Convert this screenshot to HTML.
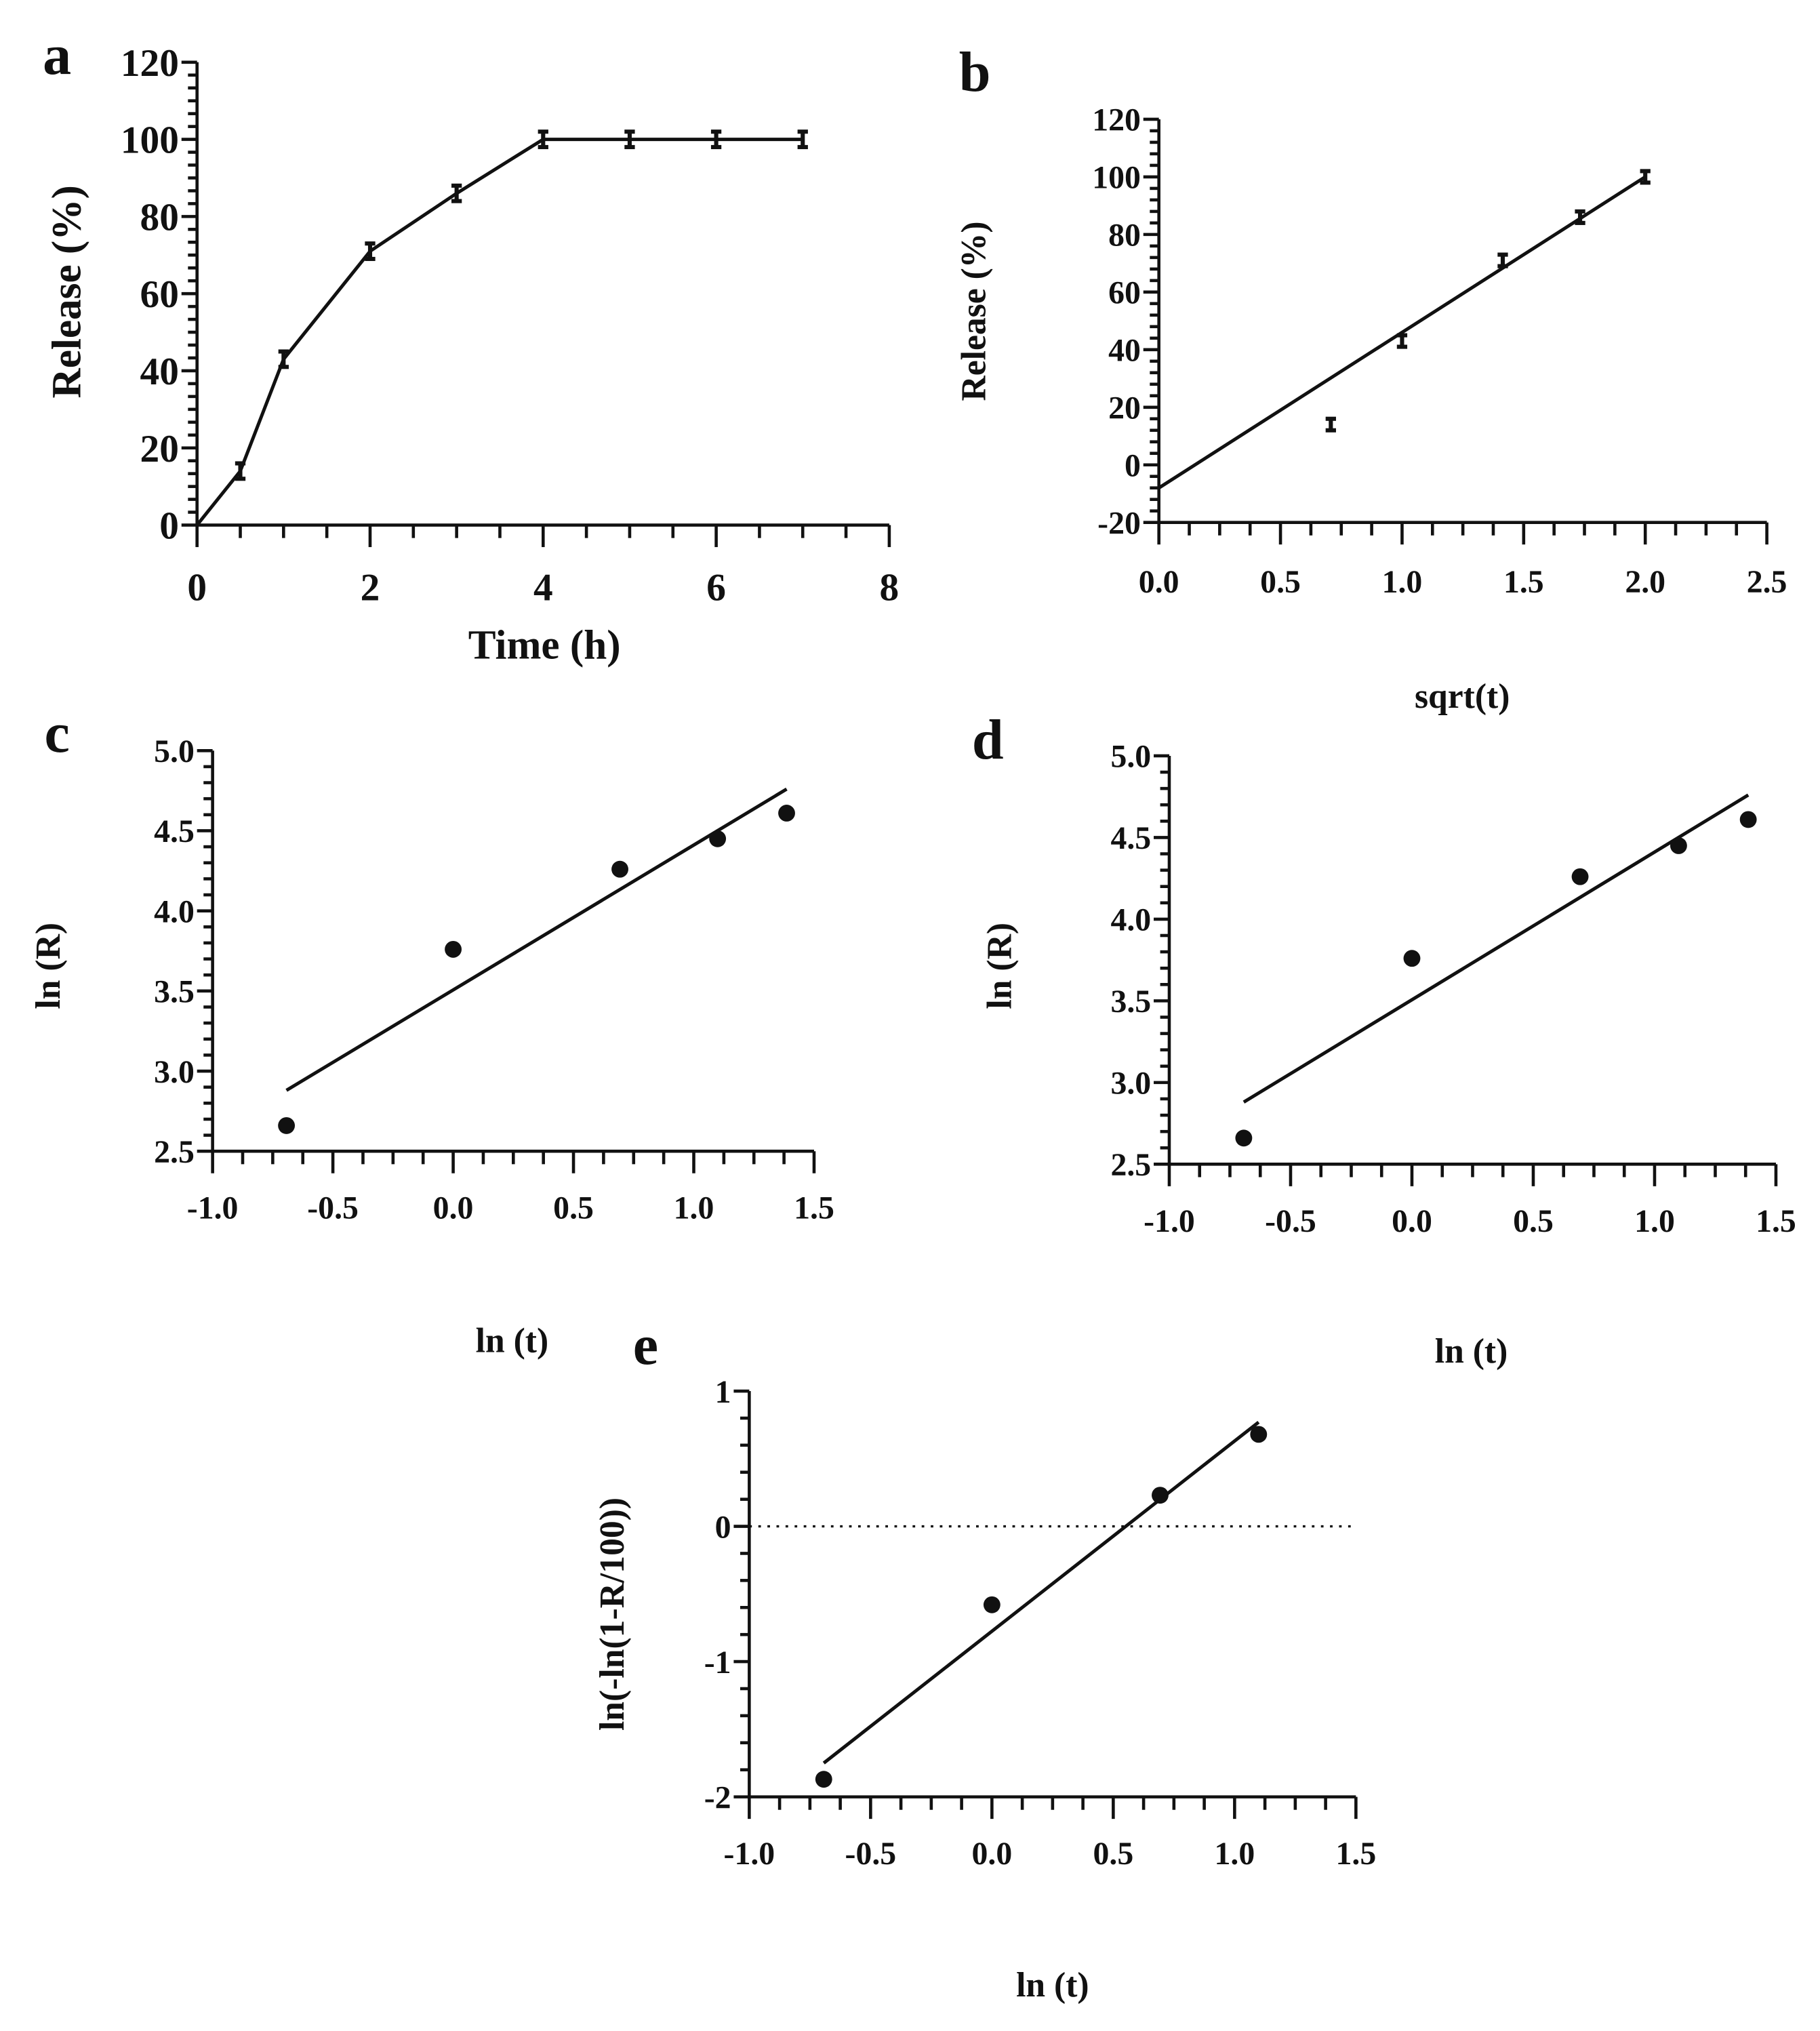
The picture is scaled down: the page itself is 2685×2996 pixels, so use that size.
<!DOCTYPE html>
<html><head><meta charset="utf-8"><style>
html,body{margin:0;padding:0;background:#fff}
svg{display:block}
text{font-family:"Liberation Serif",serif;font-weight:bold;fill:#111}
</style></head><body>
<svg id="fig" width="2685" height="2996" viewBox="0 0 1404 1566.6" preserveAspectRatio="none" xmlns="http://www.w3.org/2000/svg"></svg>
<script>
// Panel a data
const aTime = [0, 0.5, 1, 2, 3, 4, 5, 6, 7];
const aRelease = [0, 14, 43, 71, 86, 100, 100, 100, 100];
const aErr = [0, 2, 2, 2, 2, 2, 2, 2, 2];
const aXTicks = ["0","2","4","6","8"];
const aYTicks = ["0","20","40","60","80","100","120"];
// Panel b data
const bX = [0, 0.707, 1, 1.414, 1.732, 2];
const bY = [0, 14, 43, 71, 86, 100];
const bFitX = [0, 2];
const bFitY = [-8, 100];
const bXTicks = ["0.0","0.5","1.0","1.5","2.0","2.5"];
const bYTicks = ["-20","0","20","40","60","80","100","120"];
// Panel c/d data
const cdX = [-0.693, 0, 0.693, 1.099, 1.386];
const cdY = [2.66, 3.76, 4.26, 4.45, 4.61];
const cdFitX = [-0.693, 1.386];
const cdFitY = [2.88, 4.76];
const cdXTicks = ["-1.0","-0.5","0.0","0.5","1.0","1.5"];
const cdYTicks = ["2.5","3.0","3.5","4.0","4.5","5.0"];
// Panel e data
const eX = [-0.693, 0, 0.693, 1.099];
const eY = [-1.87, -0.58, 0.23, 0.68];
const eFitX = [-0.693, 1.099];
const eFitY = [-1.75, 0.77];
const eXTicks = ["-1.0","-0.5","0.0","0.5","1.0","1.5"];
const eYTicks = ["-2","-1","0","1"];

const svg = document.getElementById('fig');
const NS = 'http://www.w3.org/2000/svg';
function mk(tag, attrs, parent){
  const el = document.createElementNS(NS, tag);
  for (const k in attrs) el.setAttribute(k, attrs[k]);
  (parent||svg).appendChild(el);
  return el;
}
function txt(s, x, y, size, anchor, parent, rot){
  const t = mk('text', {x:x, y:y, 'font-size':size, 'text-anchor':anchor||'middle'}, parent);
  if (rot) t.setAttribute('transform', 'rotate(-90 '+x+' '+y+')');
  t.textContent = s;
  return t;
}
function panel(cfg){
  const g = mk('g', {});
  
  
  const sx = v => cfg.x0 + (v - cfg.xmin)/(cfg.xmax - cfg.xmin)*(cfg.x1 - cfg.x0);
  const sy = v => cfg.y0 - (v - cfg.ymin)/(cfg.ymax - cfg.ymin)*(cfg.y0 - cfg.y1);
  const ax = mk('g', {stroke:'#111','stroke-width':2.4, fill:'none'}, g);
  
  
  mk('line', {x1:cfg.x0, y1:cfg.y0, x2:cfg.x1, y2:cfg.y0}, ax);
  mk('line', {x1:cfg.x0, y1:cfg.y0, x2:cfg.x0, y2:cfg.y1}, ax);
  const nx = cfg.xTicks.length - 1;
  for (let i=0;i<nx*cfg.xMinor;i++){
    const v = cfg.xmin + (cfg.xmax-cfg.xmin)*i/(nx*cfg.xMinor);
    const major = i % cfg.xMinor === 0;
    mk('line', {x1:sx(v), y1:cfg.y0, x2:sx(v), y2:cfg.y0 + (major?17:10)}, ax);
  }
  mk('line', {x1:cfg.x1, y1:cfg.y0, x2:cfg.x1, y2:cfg.y0+17}, ax);
  cfg.xTicks.forEach((s,i)=>{
    const l = txt(s, cfg.x0 + (cfg.x1-cfg.x0)*i/nx, cfg.y0 + cfg.xLabOff, cfg.fs, 'middle', g);
    
    
  });
  const ny = cfg.yTicks.length - 1;
  for (let i=0;i<=ny*cfg.yMinor;i++){
    const y = cfg.y0 - (cfg.y0-cfg.y1)*i/(ny*cfg.yMinor);
    const major = i % cfg.yMinor === 0;
    mk('line', {x1:cfg.x0, y1:y, x2:cfg.x0 - (major?12:7), y2:y}, ax);
  }
  cfg.yTicks.forEach((s,i)=>{
    const l = txt(s, cfg.x0 - 14, cfg.y0 - (cfg.y0-cfg.y1)*i/ny + cfg.fs*0.35, cfg.fs, 'end', g);
    
    
  });
  const pl = txt(cfg.letter, cfg.lx, cfg.ly, 44, 'middle', g);
  
  
  const xt = txt(cfg.xTitle, cfg.xtx, cfg.xty, cfg.tfs, 'middle', g);
  
  
  const yt = txt(cfg.yTitle, cfg.ytx, cfg.yty, cfg.tfs, 'middle', g, true);
  
  
  if (cfg.dotZero){
    const d = mk('line', {x1:cfg.x0, y1:sy(0), x2:cfg.x1, y2:sy(0), stroke:'#111','stroke-width':1.8,'stroke-dasharray':'2 5'}, g);
    
    
  }
  if (cfg.lineX){
    const pts = cfg.lineX.map((v,i)=>sx(v)+','+sy(cfg.lineY[i])).join(' ');
    const pl2 = mk('polyline', {points:pts, fill:'none', stroke:'#111','stroke-width':2.6}, g);
    
    
  }
  if (cfg.err){
    cfg.px.forEach((v,i)=>{
      const e = cfg.err[i]; if (!e) return;
      const eg = mk('g', {stroke:'#111','stroke-width':3.2}, g);
      
      
      const x = sx(v), ya = sy(cfg.py[i]+e), yb = sy(cfg.py[i]-e);
      mk('line', {x1:x, y1:ya, x2:x, y2:yb}, eg);
      mk('line', {x1:x-4, y1:ya, x2:x+4, y2:ya}, eg);
      mk('line', {x1:x-4, y1:yb, x2:x+4, y2:yb}, eg);
    });
  }
  if (cfg.dots){
    cfg.px.forEach((v,i)=>{
      const c = mk('circle', {cx:sx(v), cy:sy(cfg.py[i]), r:6.5, fill:'#111'}, g);
      
      
    });
  }
}
panel({name:'panel-a', x0:152, x1:686, y0:405, y1:48, xmin:0, xmax:8, ymin:0, ymax:120,
  xTicks:aXTicks, yTicks:aYTicks, xMinor:4, yMinor:6, fs:30, xLabOff:58, tfs:32,
  letter:'a', lx:44, ly:57, xTitle:'Time (h)', xtx:420, xty:508, yTitle:'Release (%)', ytx:62, yty:225,
  lineX:aTime, lineY:aRelease, px:aTime, py:aRelease, err:aErr});
panel({name:'panel-b', x0:894, x1:1363, y0:403, y1:92, xmin:0, xmax:2.5, ymin:-20, ymax:120,
  xTicks:bXTicks, yTicks:bYTicks, xMinor:4, yMinor:5, fs:25, xLabOff:54, tfs:27,
  letter:'b', lx:752, ly:70, xTitle:'sqrt(t)', xtx:1128, xty:546, yTitle:'Release (%)', ytx:760, yty:240,
  lineX:bFitX, lineY:bFitY, px:bX, py:bY, err:[0,2,2,2,2,2]});
panel({name:'panel-c', x0:164, x1:628, y0:888, y1:579, xmin:-1, xmax:1.5, ymin:2.5, ymax:5,
  xTicks:cdXTicks, yTicks:cdYTicks, xMinor:4, yMinor:5, fs:25, xLabOff:52, tfs:27,
  letter:'c', lx:44, ly:580, xTitle:'ln (t)', xtx:395, xty:1043, yTitle:'ln (R)', ytx:46, yty:745,
  lineX:cdFitX, lineY:cdFitY, px:cdX, py:cdY, dots:true});
panel({name:'panel-d', x0:902, x1:1370, y0:898, y1:583, xmin:-1, xmax:1.5, ymin:2.5, ymax:5,
  xTicks:cdXTicks, yTicks:cdYTicks, xMinor:4, yMinor:5, fs:25, xLabOff:52, tfs:27,
  letter:'d', lx:762, ly:585, xTitle:'ln (t)', xtx:1135, xty:1051, yTitle:'ln (R)', ytx:780, yty:745,
  lineX:cdFitX, lineY:cdFitY, px:cdX, py:cdY, dots:true});
panel({name:'panel-e', x0:578, x1:1046, y0:1386, y1:1073, xmin:-1, xmax:1.5, ymin:-2, ymax:1,
  xTicks:eXTicks, yTicks:eYTicks, xMinor:4, yMinor:5, fs:25, xLabOff:52, tfs:27,
  letter:'e', lx:498, ly:1052, xTitle:'ln (t)', xtx:812, xty:1540, yTitle:'ln(-ln(1-R/100))', ytx:481, yty:1245,
  lineX:eFitX, lineY:eFitY, px:eX, py:eY, dots:true, dotZero:true});
</script>
</body></html>
